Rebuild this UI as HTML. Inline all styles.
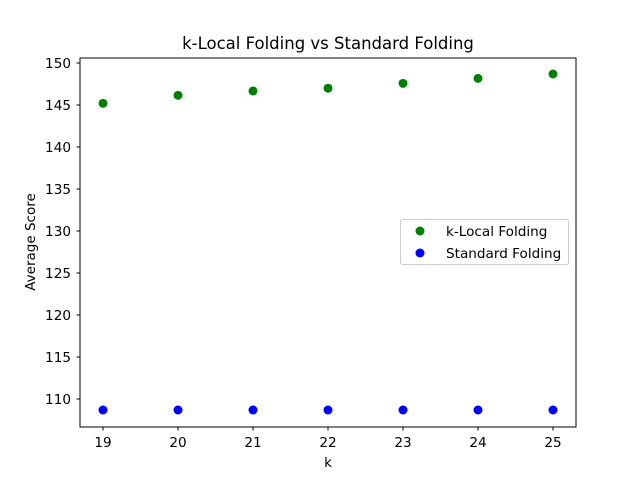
<!DOCTYPE html>
<html><head><meta charset="utf-8"><style>
body{margin:0;background:#fff}
svg text{font-family:"DejaVu Sans","Liberation Sans",sans-serif;fill:#000}
</style></head><body>
<svg id="chart" width="640" height="480">
<rect width="640" height="480" fill="#fff"/>
<text x="328" y="49" font-size="16.5" text-anchor="middle">k-Local Folding vs Standard Folding</text>
<text x="328" y="467" font-size="13.5" text-anchor="middle">k</text>
<text transform="translate(35,242) rotate(-90)" font-size="13.5" text-anchor="middle">Average Score</text>
<g id="ticks"></g>
<g id="marks"></g>
<rect x="80" y="58" width="496" height="369" fill="none" stroke="#000" stroke-width="1"/>
<g>
<rect x="400.5" y="219.5" width="168" height="45" rx="2" fill="#fff" fill-opacity="0.8" stroke="#ccc"/>
<circle cx="420" cy="231" r="4.5" fill="green"/>
<text x="446" y="236" font-size="13.6">k-Local Folding</text>
<circle cx="420" cy="253" r="4.5" fill="blue"/>
<text x="446" y="258" font-size="13.6">Standard Folding</text>
</g>
</svg>
<script>
const categories=[19,20,21,22,23,24,25];
const kLocal=[145.2,146.15,146.67,147.0,147.58,148.17,148.69];
const standard=[108.69,108.69,108.69,108.69,108.69,108.69,108.69];
const yTicks=[110,115,120,125,130,135,140,145,150];
const xTicks=[19,20,21,22,23,24,25];
const ns="http://www.w3.org/2000/svg";
const xS=v=>103+(v-19)*75;
const yS=v=>399-(v-110)*8.4;
const tg=document.getElementById('ticks'),mg=document.getElementById('marks');
function mk(t,a,p){const e=document.createElementNS(ns,t);for(const k in a)e.setAttribute(k,a[k]);p.appendChild(e);return e;}
xTicks.forEach(v=>{
 const l=mk('line',{x1:xS(v),x2:xS(v),y1:427,y2:430.5,stroke:'#000'},tg);
 
 
 const t=mk('text',{x:xS(v),y:447,'font-size':13.6,'text-anchor':'middle'},tg);t.textContent=v;
 
 
});
yTicks.forEach(v=>{
 const l=mk('line',{x1:76.5,x2:80,y1:yS(v),y2:yS(v),stroke:'#000'},tg);
 
 
 const t=mk('text',{x:71,y:yS(v)+5,'font-size':13.6,'text-anchor':'end'},tg);t.textContent=v;
 
 
});
categories.forEach((c,i)=>{
 const a=mk('circle',{cx:xS(c),cy:yS(kLocal[i]),r:4.5,fill:'green'},mg);
 
 
 const b=mk('circle',{cx:xS(c),cy:yS(standard[i]),r:4.5,fill:'blue'},mg);
 
 
});
</script>
</body></html>
